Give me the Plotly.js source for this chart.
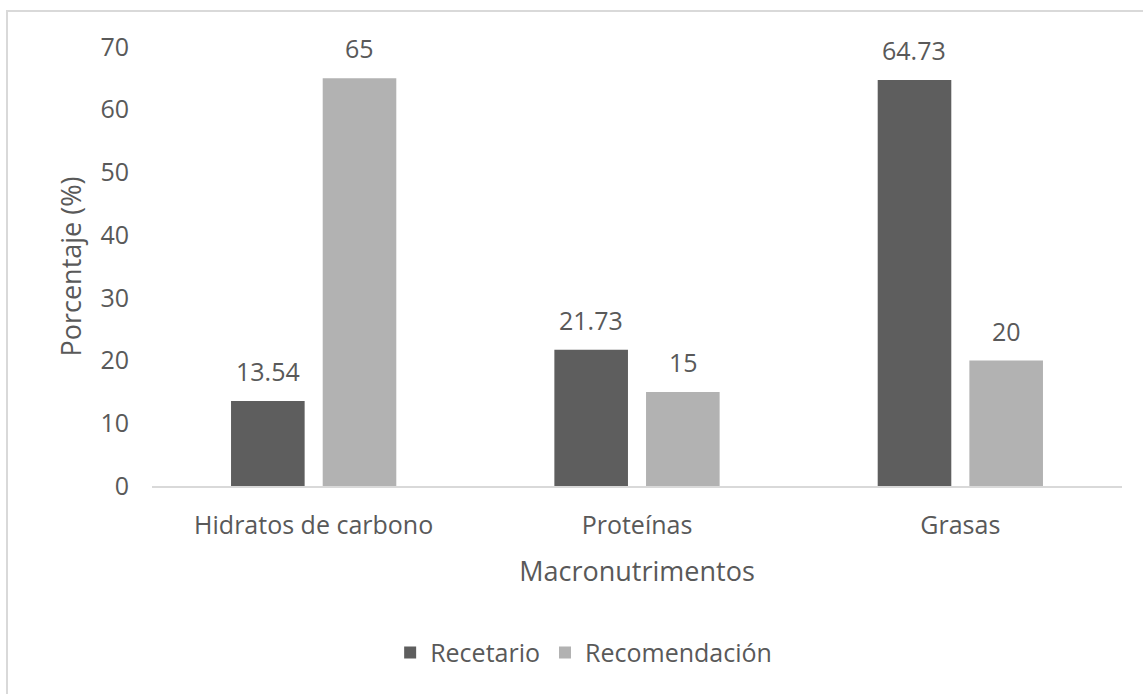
<!DOCTYPE html>
<html>
<head>
<meta charset="utf-8">
<script src="https://cdn.plot.ly/plotly-3.0.1.min.js"></script>
<style>
  html, body { margin: 0; padding: 0; background: #ffffff; }
  #chart { width: 1143px; height: 694px; }
</style>
</head>
<body>
<div id="chart"></div>
<script>
// Macronutrient distribution: recipe book vs. recommendation (%)
const categories = ["Hidratos de carbono", "Proteínas", "Grasas"];
const recetario = [13.54, 21.73, 64.73];
const recomendacion = [65, 15, 20];
const seriesNames = ["Recetario", "Recomendación"];
const yTicks = [0, 10, 20, 30, 40, 50, 60, 70];

const textColor = "#595959";
const fontFamily = "'Open Sans', Lato, sans-serif";
const darkGray = "#5e5e5e";
const lightGray = "#b2b2b2";

const traces = [
  {
    type: "bar",
    name: seriesNames[0],
    x: categories,
    y: recetario,
    marker: { color: darkGray },
    hoverinfo: "skip"
  },
  {
    type: "bar",
    name: seriesNames[1],
    x: categories,
    y: recomendacion,
    marker: { color: lightGray },
    hoverinfo: "skip"
  }
];

// value labels above each bar, placed from the same values as the bars
const labelFont = { family: fontFamily, size: 25, color: textColor };
const annotations = [];
[recetario, recomendacion].forEach((vals, s) => {
  vals.forEach((v, i) => {
    annotations.push({
      x: categories[i],
      y: v,
      xref: "x",
      yref: "y",
      text: String(v),
      showarrow: false,
      xanchor: "center",
      yanchor: "middle",
      xshift: s === 0 ? -46 : 46,
      yshift: 30,
      font: labelFont
    });
  });
});

const layout = {
  width: 1143,
  height: 694,
  paper_bgcolor: "#ffffff",
  plot_bgcolor: "#ffffff",
  margin: { l: 152, r: 21, t: 47, b: 208 },
  font: { family: fontFamily, color: textColor, size: 25 },
  barmode: "group",
  bargap: 0.433,
  bargroupgap: 0.197,
  showlegend: true,
  legend: {
    orientation: "h",
    x: 0.445,
    xanchor: "center",
    y: -0.38,
    yanchor: "middle",
    font: { family: fontFamily, size: 25, color: textColor },
    itemwidth: 30,
    tracegroupgap: 0
  },
  xaxis: {
    type: "category",
    showline: true,
    linecolor: "#d9d9d9",
    linewidth: 2,
    ticks: "",
    showgrid: false,
    zeroline: false,
    ticklabelstandoff: 16,
    tickfont: { family: fontFamily, size: 25, color: textColor },
    title: {
      text: "Macronutrimentos",
      font: { family: fontFamily, size: 27, color: textColor },
      standoff: 22
    },
    automargin: false,
    fixedrange: true
  },
  yaxis: {
    range: [0, 70],
    tickvals: yTicks,
    ticktext: yTicks.map(String),
    showline: false,
    showgrid: false,
    zeroline: false,
    ticks: "",
    ticklabelstandoff: 22,
    tickfont: { family: fontFamily, size: 25, color: textColor },
    title: {
      text: "Porcentaje (%)",
      font: { family: fontFamily, size: 27, color: textColor },
      standoff: 10
    },
    automargin: false,
    fixedrange: true
  },
  annotations: annotations,
  shapes: [
    {
      // chart frame (left and top edges visible)
      type: "rect",
      xref: "paper",
      yref: "paper",
      x0: -0.1495,
      x1: 1.2,
      y0: -0.6,
      y1: 1.082,
      line: { color: "#d9d9d9", width: 2 },
      fillcolor: "rgba(0,0,0,0)",
      layer: "below"
    }
  ]
};

Plotly.newPlot("chart", traces, layout, { displayModeBar: false, staticPlot: true });
</script>
</body>
</html>
